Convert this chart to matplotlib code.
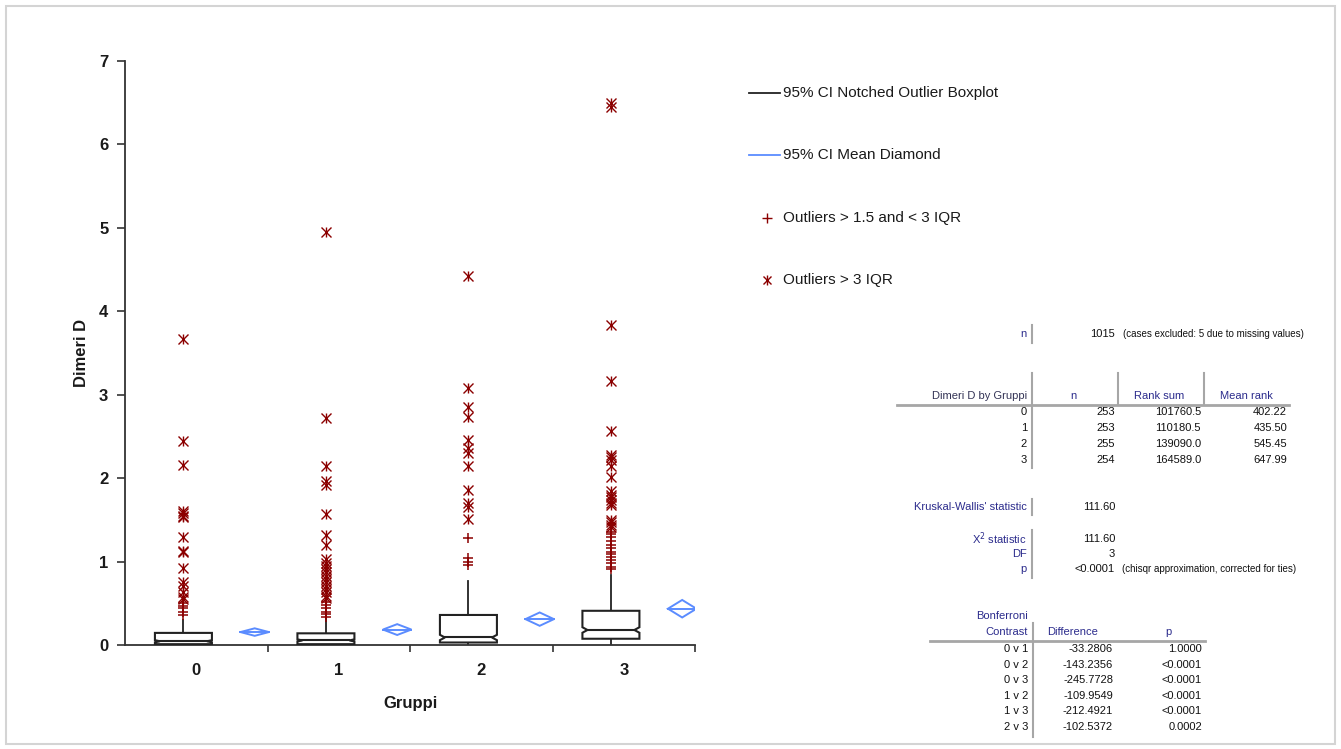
import numpy as np
import matplotlib
matplotlib.use("Agg")
import matplotlib.pyplot as plt
from matplotlib.lines import Line2D
from matplotlib.patches import Polygon, Rectangle

plt.rcParams['font.family'] = ['Liberation Sans', 'DejaVu Sans']

# ---- data ----
groups = ['0', '1', '2', '3']
q1 = [0.01, 0.01, 0.03, 0.075]
median = [0.045, 0.055, 0.09, 0.18]
q3 = [0.145, 0.14, 0.36, 0.41]
notch_lo = [0.032, 0.042, 0.058, 0.147]
notch_hi = [0.058, 0.068, 0.122, 0.213]
whisk_lo = [0.0, 0.0, 0.01, 0.0]
whisk_hi = [0.30, 0.32, 0.77, 0.84]

mean = [0.155, 0.185, 0.31, 0.435]
mean_ci = [0.045, 0.065, 0.08, 0.105]

mild = [
    [0.50, 0.47, 0.44, 0.40, 0.36],
    [0.52, 0.48, 0.44, 0.40, 0.37, 0.34],
    [1.28, 1.04, 1.00, 0.96],
    [1.36, 1.33, 1.30, 1.25, 1.20, 1.16, 1.12, 1.09, 1.05, 1.02, 0.98, 0.94, 0.91],
]
extreme = [
    [3.67, 2.45, 2.16, 1.61, 1.58, 1.55, 1.53, 1.29, 1.13, 1.11, 0.92, 0.75,
     0.71, 0.64, 0.57, 0.55],
    [4.95, 2.72, 2.15, 1.96, 1.92, 1.57, 1.32, 1.20, 1.03, 0.98, 0.95, 0.91,
     0.87, 0.83, 0.79, 0.75, 0.71, 0.67, 0.63, 0.59, 0.56],
    [4.42, 3.08, 2.85, 2.73, 2.46, 2.36, 2.30, 2.14, 1.86, 1.70, 1.66, 1.51],
    [6.50, 6.45, 3.83, 3.16, 2.57, 2.28, 2.25, 2.22, 2.14, 2.01, 1.84, 1.80,
     1.77, 1.74, 1.70, 1.68, 1.50, 1.47, 1.44, 1.42],
]

legend_labels = ['95% CI Notched Outlier Boxplot', '95% CI Mean Diamond',
                 'Outliers > 1.5 and < 3 IQR', 'Outliers > 3 IQR']

kw_rows = ['0', '1', '2', '3']
kw_n = ['253', '253', '255', '254']
kw_ranksum = ['101760.5', '110180.5', '139090.0', '164589.0']
kw_meanrank = ['402.22', '435.50', '545.45', '647.99']

contrasts = ['0 v 1', '0 v 2', '0 v 3', '1 v 2', '1 v 3', '2 v 3']
differences = ['-33.2806', '-143.2356', '-245.7728', '-109.9549', '-212.4921', '-102.5372']
contrast_p = ['1.0000', '<0.0001', '<0.0001', '<0.0001', '<0.0001', '0.0002']

# ---- figure ----
W, H = 1341, 749
fig = plt.figure(figsize=(W / 100, H / 100), dpi=100)

def fx(px):
    return px / W

def fy(py):
    return 1 - py / H

fig.add_artist(Rectangle((fx(6), fy(744)), fx(1335) - fx(6), fy(6) - fy(744),
                         transform=fig.transFigure, fill=False,
                         edgecolor='#d4d4d4', lw=1.5))

ax = fig.add_axes([fx(125), fy(645), 570 / W, 584 / H])

red = '#8b0000'
blue = '#5b8cff'
box_off, box_w, notch_d = -0.09, 0.40, 0.035
dia_off, dia_hw = 0.41, 0.10

def star(xs, ys):
    # asterisk-like outlier mark: an x with a vertical stroke through it
    ax.plot(xs, ys, ls='none', marker='x', ms=6.5, mew=1.0, color=red, zorder=5)
    ax.plot(xs, ys, ls='none', marker='|', ms=7.5, mew=1.0, color=red, zorder=5)

for i in range(len(groups)):
    xc = i + box_off
    l, r = xc - box_w / 2, xc + box_w / 2
    pts = [(l, q1[i]), (l, notch_lo[i]), (l + notch_d, median[i]), (l, notch_hi[i]),
           (l, q3[i]), (r, q3[i]), (r, notch_hi[i]), (r - notch_d, median[i]),
           (r, notch_lo[i]), (r, q1[i])]
    ax.add_patch(Polygon(pts, closed=True, facecolor='white', edgecolor='#222222',
                         lw=1.5, zorder=3))
    ax.plot([l + notch_d, r - notch_d], [median[i], median[i]], color='#222222',
            lw=1.5, zorder=4)
    ax.plot([xc, xc], [q3[i], whisk_hi[i]], color='#222222', lw=1.3, zorder=2)
    ax.plot([xc, xc], [whisk_lo[i], q1[i]], color='#222222', lw=1.3, zorder=2)

    # outliers
    ax.plot([xc] * len(mild[i]), mild[i], ls='none', marker='+', ms=7.5,
            mew=1.1, color=red, zorder=5)
    star([xc] * len(extreme[i]), extreme[i])

    # mean diamond
    xd = i + dia_off
    dpts = [(xd - dia_hw, mean[i]), (xd, mean[i] + mean_ci[i]),
            (xd + dia_hw, mean[i]), (xd, mean[i] - mean_ci[i])]
    ax.add_patch(Polygon(dpts, closed=True, fill=False, edgecolor=blue, lw=1.4,
                         zorder=3))
    ax.plot([xd - dia_hw, xd + dia_hw], [mean[i], mean[i]], color=blue, lw=1.4,
            zorder=3)

ax.set_xlim(-0.5, 3.5)
ax.set_ylim(0, 7)
ax.spines['top'].set_visible(False)
ax.spines['right'].set_visible(False)
for s in ('left', 'bottom'):
    ax.spines[s].set_color('#333333')
    ax.spines[s].set_linewidth(1.3)

ax.set_xticks(range(len(groups)))
ax.set_xticklabels(groups)
ax.set_xticks(np.arange(0.5, 4, 1.0), minor=True)
ax.tick_params(axis='x', which='major', length=0, pad=13)
ax.tick_params(axis='x', which='minor', length=5, width=1.2, color='#333333')
ax.set_yticks(range(0, 8))
ax.tick_params(axis='y', length=6, width=1.2, color='#333333', pad=6)
for lab in ax.get_xticklabels() + ax.get_yticklabels():
    lab.set_fontsize(12)
    lab.set_fontweight('bold')
    lab.set_color('#1a1a1a')

ax.set_ylabel('Dimeri D', fontsize=12, fontweight='bold', labelpad=7, color='#1a1a1a')
ax.set_xlabel('Gruppi', fontsize=12, fontweight='bold', labelpad=13, color='#1a1a1a')

# ---- legend (drawn by hand) ----
leg_y = [93, 155, 218, 280]
fig.add_artist(Line2D([fx(749), fx(780)], [fy(leg_y[0])] * 2, color='#222222', lw=1.3))
fig.add_artist(Line2D([fx(749), fx(780)], [fy(leg_y[1])] * 2, color=blue, lw=1.3))
fig.add_artist(Line2D([fx(767)], [fy(leg_y[2])], marker='+', ms=7, mew=1.0, color=red))
fig.add_artist(Line2D([fx(767)], [fy(leg_y[3])], marker='x', ms=6, mew=1.0, color=red))
fig.add_artist(Line2D([fx(767)], [fy(leg_y[3])], marker='|', ms=7, mew=1.0, color=red))
for y, t in zip(leg_y, legend_labels):
    fig.text(fx(783), fy(y), t, fontsize=11, va='center', ha='left', color='#1a1a1a')

# ---- statistics tables ----
lab_c = '#2b2b8c'
num_c = '#111111'
sep_c = '#a6a6a6'
fs = 8

def vline(x, y0, y1):
    fig.add_artist(Line2D([fx(x)] * 2, [fy(y0), fy(y1)], color=sep_c, lw=1.5))

def hline(x0, x1, y):
    fig.add_artist(Line2D([fx(x0), fx(x1)], [fy(y)] * 2, color=sep_c, lw=2))

def txt(x, y, s, ha='right', color=num_c, size=fs):
    fig.text(fx(x), fy(y), s, fontsize=size, ha=ha, va='center', color=color)

# n
txt(1027, 334, 'n', color=lab_c)
vline(1032, 325, 343)
txt(1115, 334, '1015')
txt(1123, 334, '(cases excluded: 5 due to missing values)', ha='left', size=7)

# Kruskal-Wallis ranks
vline(1032, 373, 468)
vline(1118, 373, 404)
vline(1204, 373, 404)
hline(897, 1289, 405)
txt(1027, 396, 'Dimeri D by Gruppi', color='#333355')
txt(1073, 396, 'n', ha='center', color=lab_c)
txt(1159, 396, 'Rank sum', ha='center', color=lab_c)
txt(1246, 396, 'Mean rank', ha='center', color=lab_c)
for k in range(len(kw_rows)):
    y = 412 + 16 * k
    txt(1027, y, kw_rows[k])
    txt(1115, y, kw_n[k])
    txt(1201, y, kw_ranksum[k])
    txt(1287, y, kw_meanrank[k])

# statistic
txt(1027, 507, "Kruskal-Wallis' statistic", color=lab_c)
vline(1032, 499, 515)
txt(1115, 507, '111.60')
vline(1032, 530, 578)
txt(1027, 539, r'X$^2$ statistic', color=lab_c)
txt(1115, 539, '111.60')
txt(1027, 554, 'DF', color=lab_c)
txt(1115, 554, '3')
txt(1027, 569, 'p', color=lab_c)
txt(1115, 569, '<0.0001')
txt(1122, 569, '(chisqr approximation, corrected for ties)', ha='left', size=7)

# Bonferroni
txt(1028, 616, 'Bonferroni', color=lab_c)
txt(1028, 632, 'Contrast', color=lab_c)
vline(1033, 623, 737)
hline(930, 1205, 641)
txt(1073, 632, 'Difference', ha='center', color=lab_c)
txt(1168, 632, 'p', ha='center', color=lab_c)
for k in range(len(contrasts)):
    y = 649 + 15.6 * k
    txt(1028, y, contrasts[k])
    txt(1113, y, differences[k])
    txt(1202, y, contrast_p[k])

fig.savefig('out.png', dpi=100)
